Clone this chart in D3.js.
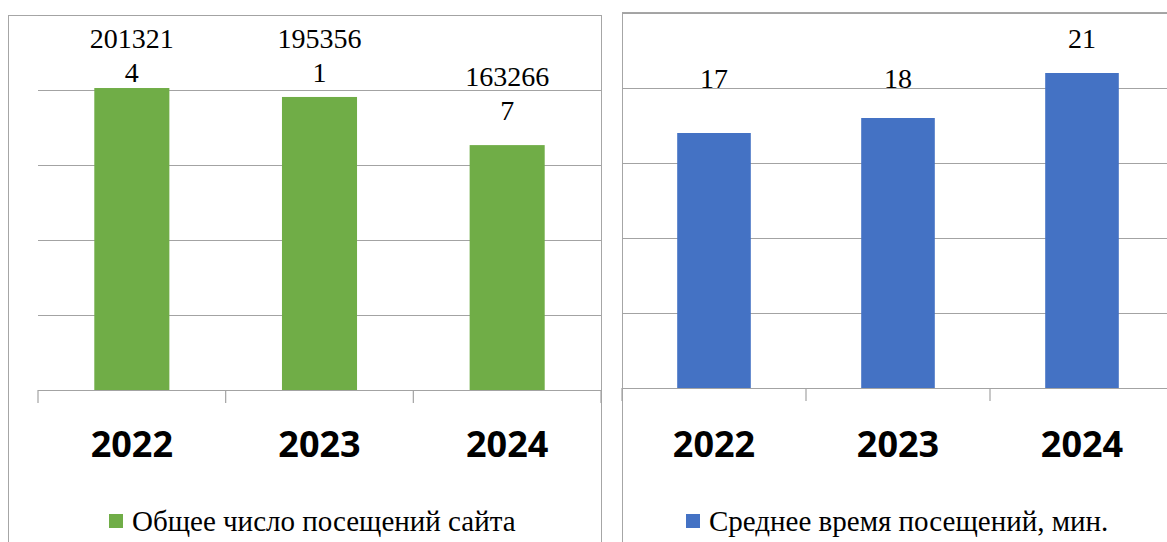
<!DOCTYPE html>
<html>
<head>
<meta charset="utf-8">
<script src="https://cdn.jsdelivr.net/npm/d3@7"></script>
<style>
  html, body { margin: 0; padding: 0; background: #fff; overflow: hidden; }
  svg { display: block; }
</style>
</head>
<body>
<div id="chart"></div>
<script>
// данные
var years = ["2022", "2023", "2024"];
var visits = [2013214, 1953561, 1632667];       // общее число посещений сайта
var avgMinutes = [17, 18, 21];                  // среднее время посещений, мин.
var visitTicks = [0, 500000, 1000000, 1500000, 2000000, 2500000];
var minuteTicks = [0, 5, 10, 15, 20, 25];
var visitName = "Общее число посещений сайта";
var minuteName = "Среднее время посещений, мин.";

var W = 1167, H = 542;
var gridColor = "#a3a3a3";
var serifFont = "'Liberation Serif', 'Times New Roman', serif";

var svg = d3.select("#chart")
    .append("svg")
    .attr("width", W)
    .attr("height", H);

function drawPanel(o) {
    var g = svg.append("g");

    // рамка диаграммы (низ уходит за край картинки)
    g.append("rect")
        .attr("x", o.frame[0] + 0.5)
        .attr("y", o.frame[1] + 0.5)
        .attr("width", o.frame[2])
        .attr("height", 700)
        .attr("fill", "none")
        .attr("stroke", "#a6a6a6")
        .attr("stroke-width", 1);

    var x = d3.scaleBand()
        .domain(years)
        .range([o.left, o.right])
        .padding(0);

    var y = d3.scaleLinear()
        .domain([0, o.ticks[o.ticks.length - 1]])
        .range([o.bottom, o.top]);

    // сетка
    g.append("g")
        .attr("transform", "translate(" + o.left + ",0)")
        .call(d3.axisLeft(y).tickValues(o.ticks).tickSize(-(o.right - o.left)).tickFormat(""))
        .call(function (a) { a.select(".domain").remove(); })
        .selectAll("line")
        .attr("stroke", gridColor)
        .attr("stroke-width", 1.2);

    // столбцы
    var barW = x.bandwidth() * 0.4;
    g.selectAll("rect.bar")
        .data(o.values)
        .enter()
        .append("rect")
        .attr("class", "bar")
        .attr("x", function (d, i) { return x(years[i]) + (x.bandwidth() - barW) / 2; })
        .attr("y", function (d) { return y(d); })
        .attr("width", barW)
        .attr("height", function (d) { return y(0) - y(d); })
        .attr("fill", o.color);

    // ось X: линия и засечки на границах категорий
    var edges = years.map(function (d) { return x(d); }).concat([o.right]);
    g.append("line")
        .attr("x1", o.left).attr("x2", o.right)
        .attr("y1", y(0) + 0.5).attr("y2", y(0) + 0.5)
        .attr("stroke", gridColor).attr("stroke-width", 1.2);
    g.selectAll("line.tick-x")
        .data(edges)
        .enter()
        .append("line")
        .attr("class", "tick-x")
        .attr("x1", function (d) { return d; })
        .attr("x2", function (d) { return d; })
        .attr("y1", y(0))
        .attr("y2", y(0) + 13)
        .attr("stroke", gridColor)
        .attr("stroke-width", 1.2);

    // подписи годов
    g.selectAll("text.year")
        .data(years)
        .enter()
        .append("text")
        .attr("class", "year")
        .attr("x", function (d) { return x(d) + x.bandwidth() / 2; })
        .attr("y", 457)
        .attr("text-anchor", "middle")
        .style("font-family", "'Noto Sans', 'Open Sans', sans-serif")
        .style("font-weight", "bold")
        .style("font-size", "36px")
        .attr("fill", "#000")
        .text(function (d) { return d; });

    // подписи значений
    g.selectAll("text.val")
        .data(o.values)
        .enter()
        .append("text")
        .attr("class", "val")
        .attr("x", function (d, i) { return x(years[i]) + x.bandwidth() / 2; })
        .attr("text-anchor", "middle")
        .style("font-family", serifFont)
        .style("font-size", "28px")
        .attr("fill", "#000")
        .each(function (d) {
            var lines = o.split(d);
            var base = o.labelBase(y, d);
            var t = d3.select(this);
            lines.forEach(function (s, k) {
                t.append("tspan")
                    .attr("x", t.attr("x"))
                    .attr("y", base - (lines.length - 1 - k) * 34)
                    .text(s);
            });
        });

    // легенда
    g.append("rect")
        .attr("x", o.legend[0])
        .attr("y", 514)
        .attr("width", 14)
        .attr("height", 14)
        .attr("fill", o.color);
    g.append("text")
        .attr("x", o.legend[0] + 23)
        .attr("y", 531)
        .style("font-family", serifFont)
        .style("font-size", "29px")
        .attr("fill", "#000")
        .text(o.name);
}

// левая диаграмма: число длинное, Excel перенёс его на две строки
drawPanel({
    frame: [8, 15, 593],
    left: 38, right: 601, top: 15, bottom: 390,
    values: visits,
    ticks: visitTicks,
    color: "#70ad47",
    name: visitName,
    legend: [109],
    split: function (d) { var s = String(d); return [s.slice(0, 6), s.slice(6)]; },
    labelBase: function (y, d) { return Math.max(y(d) - 25, 15 + 67); }
});

// правая диаграмма (правый край обрезан)
drawPanel({
    frame: [622, 12, 600],
    left: 622, right: 1174, top: 13, bottom: 388,
    values: avgMinutes,
    ticks: minuteTicks,
    color: "#4472c4",
    name: minuteName,
    legend: [686],
    split: function (d) { return [String(d)]; },
    labelBase: function (y, d) { return Math.min(y(d) - 25, y(20)); }
});
</script>
</body>
</html>
